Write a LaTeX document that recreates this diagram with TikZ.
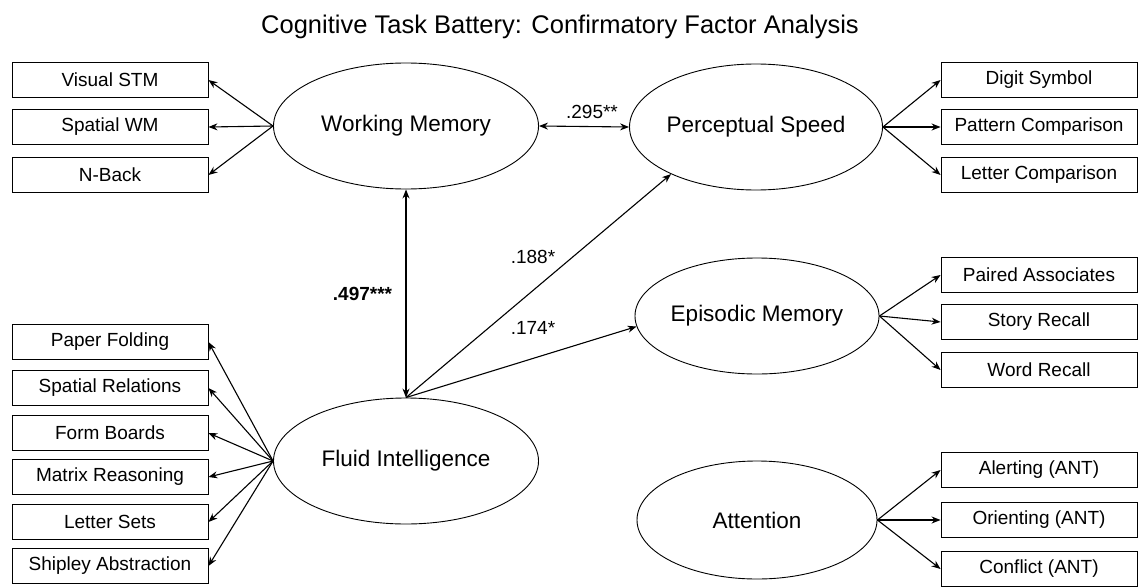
\documentclass[tikz,border=0pt]{standalone}
\usepackage{fontspec}
\setmainfont{Liberation Sans}
\usetikzlibrary{shapes.geometric,arrows.meta}

\begin{document}
\begin{tikzpicture}[x=1pt, y=-1pt, >={Stealth[length=9pt,width=7pt]},
    task/.style={draw, line width=0.9pt, minimum width=196pt, minimum height=35pt,
        inner sep=0pt, font=\fontsize{19}{22}\selectfont},
    factor/.style={draw, ellipse, line width=0.9pt, inner sep=0pt,
        font=\fontsize{22.5}{26}\selectfont},
    load/.style={->, line width=1.1pt},
    est/.style={font=\fontsize{19}{22}\selectfont}]
    % 画布大小
    \useasboundingbox (0,0) rectangle (1139,586);

    % 标题
    \node[font=\fontsize{25.5}{30}\selectfont, anchor=base] (title) at (560,34)
        {Cognitive Task Battery: Confirmatory Factor Analysis};

    % 潜变量（椭圆）
    \node[factor, minimum width=265pt, minimum height=126pt] (wm) at (406,126) {Working Memory};
    \node[factor, minimum width=239pt, minimum height=126pt] (ps) at (756,127) {Perceptual Speed};
    \node[factor, minimum width=237pt, minimum height=116pt] (em) at (757,316) {Episodic Memory};
    \node[factor, minimum width=265pt, minimum height=126pt] (fi) at (406,461) {Fluid Intelligence};
    \node[factor, minimum width=240pt, minimum height=118pt] (att) at (757,520) {Attention};

    % 左侧观测变量：Working Memory
    \foreach \name/\txt/\y in {vstm/Visual STM/80, swm/Spatial WM/127, nback/N-Back/175} {
        \node[task] (\name) at (110,\y) {\txt};
        \draw[load] (wm.west) -- (\name.east);
    }

    % 左侧观测变量：Fluid Intelligence
    \foreach \name/\txt/\y in {pf/Paper Folding/342, sr/Spatial Relations/388,
        fb/Form Boards/433, mr/Matrix Reasoning/477, ls/Letter Sets/522,
        sa/Shipley Abstraction/566} {
        \node[task] (\name) at (110,\y) {\txt};
        \draw[load] (fi.west) -- (\name.east);
    }

    % 右侧观测变量：Perceptual Speed
    \foreach \name/\txt/\y in {ds/Digit Symbol/80, pc/Pattern Comparison/127,
        lc/Letter Comparison/175} {
        \node[task] (\name) at (1039,\y) {\txt};
        \draw[load] (ps.east) -- (\name.west);
    }

    % 右侧观测变量：Episodic Memory
    \foreach \name/\txt/\y in {pa/Paired Associates/275, story/Story Recall/322,
        word/Word Recall/370} {
        \node[task] (\name) at (1039,\y) {\txt};
        \draw[load] (em.east) -- (\name.west);
    }

    % 右侧观测变量：Attention
    \foreach \name/\txt/\y in {alert/Alerting (ANT)/470, orient/Orienting (ANT)/520,
        confl/Conflict (ANT)/569} {
        \node[task] (\name) at (1039,\y) {\txt};
        \draw[load] (att.east) -- (\name.west);
    }

    % 因子间相关与路径
    \draw[<->, line width=1.1pt] (wm.east) -- node[est, above=4pt, xshift=8pt] {.295**} (ps.west);
    \draw[<->, line width=1.1pt] (wm.south) -- node[est, left=10pt, font=\fontsize{19}{22}\selectfont\bfseries] {.497***} (fi.north);
    \draw[load] (fi.north) -- (ps.209);
    \draw[load] (fi.north) -- (em.185);

    % 路径系数
    \node[est] (b188) at (533,257) {.188*};
    \node[est] (b174) at (533,328) {.174*};
\end{tikzpicture}
\end{document}
